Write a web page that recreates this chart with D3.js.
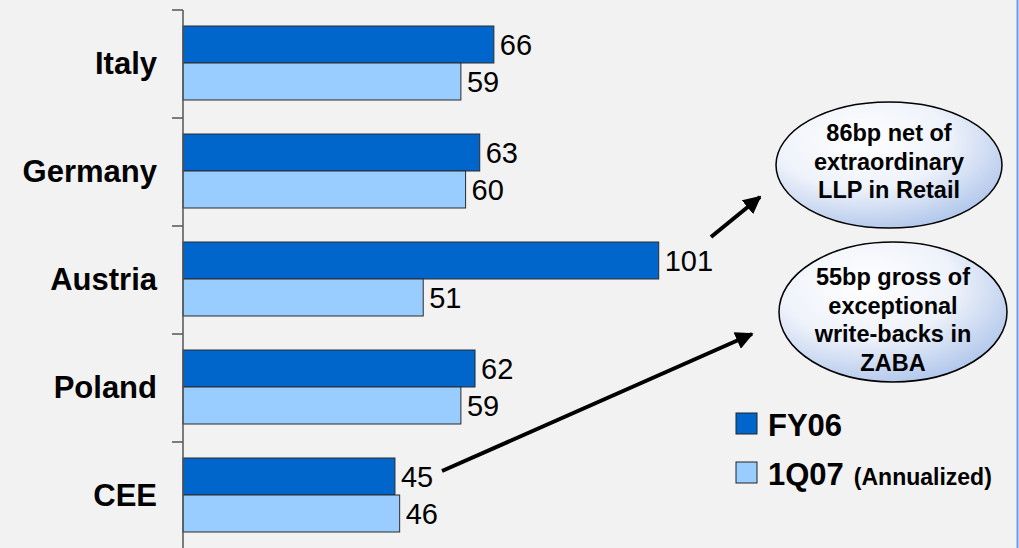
<!DOCTYPE html>
<html>
<head>
<meta charset="utf-8">
<script src="https://cdn.jsdelivr.net/npm/d3@7"></script>
<style>
  html, body { margin: 0; padding: 0; background: #F2F2F2; }
  svg { display: block; font-family: Arial, "Liberation Sans", Helvetica, sans-serif; }
</style>
</head>
<body>
<svg id="chart" width="1019" height="548"></svg>
<script>
// Loan loss provisions (bp) by region
const categories = ["Italy", "Germany", "Austria", "Poland", "CEE"];
const seriesNames = ["FY06", "1Q07"];
const fy06 = [66, 63, 101, 62, 45];
const q107 = [59, 60, 51, 59, 46];
const seriesColors = ["#0066CC", "#99CCFF"];
const legendNotes = ["", "(Annualized)"];
const noteUpper = ["86bp net of", "extraordinary", "LLP in Retail"];
const noteLower = ["55bp gross of", "exceptional", "write-backs in", "ZABA"];

const svg = d3.select("#chart");
const W = 1019, H = 548;

svg.append("rect").attr("width", W).attr("height", H).attr("fill", "#F2F2F2");
// thin frame line on the right edge
svg.append("line").attr("x1", W - 1.5).attr("x2", W - 1.5).attr("y1", 0).attr("y2", H)
  .attr("stroke", "#6F9BEA").attr("stroke-width", 2);

const x = d3.scaleLinear().domain([0, 100]).range([183, 654]);
const y = d3.scaleBand().domain(categories).range([10, 550]).padding(0);
const ySub = d3.scaleBand().domain(seriesNames).range([16, 90]).padding(0);

const rows = categories.map((c, i) => ({ cat: c, vals: [fy06[i], q107[i]] }));

// bars and value labels
const g = svg.append("g");
rows.forEach(r => {
  r.vals.forEach((v, j) => {
    const s = seriesNames[j];
    const top = y(r.cat) + ySub(s);
    g.append("rect")
      .attr("x", x(0))
      .attr("y", top)
      .attr("width", x(v) - x(0))
      .attr("height", ySub.bandwidth())
      .attr("fill", seriesColors[j])
      .attr("stroke", "#2B2B2B")
      .attr("stroke-width", 1);
    g.append("text")
      .attr("x", x(v) + 6)
      .attr("y", top + ySub.bandwidth() / 2)
      .attr("dy", "0.36em")
      .attr("font-size", 29)
      .attr("fill", "#000")
      .text(v);
  });
});

// category axis with ticks at band boundaries
const axG = svg.append("g").attr("transform", `translate(${x(0)},0)`);
axG.append("line").attr("x1", 0).attr("x2", 0).attr("y1", 10).attr("y2", H)
  .attr("stroke", "#555").attr("stroke-width", 1.5);
categories.forEach(c => {
  axG.append("line").attr("x1", -11).attr("x2", 0)
    .attr("y1", y(c)).attr("y2", y(c))
    .attr("stroke", "#555").attr("stroke-width", 1.5);
});
categories.forEach(c => {
  svg.append("text")
    .attr("x", 157)
    .attr("y", y(c) + y.bandwidth() / 2 - 1)
    .attr("dy", "0.36em")
    .attr("text-anchor", "end")
    .attr("font-size", 31)
    .attr("font-weight", "bold")
    .text(c);
});

// callout fill
const defs = svg.append("defs");
const grad = defs.append("radialGradient").attr("id", "noteFill")
  .attr("cx", "0.38").attr("cy", "0.3").attr("r", "0.78");
grad.append("stop").attr("offset", "0%").attr("stop-color", "#FFFFFF");
grad.append("stop").attr("offset", "50%").attr("stop-color", "#EEF2FA");
grad.append("stop").attr("offset", "100%").attr("stop-color", "#A9C1E9");

defs.append("marker").attr("id", "head")
  .attr("viewBox", "0 0 10 10").attr("refX", 9).attr("refY", 5)
  .attr("markerWidth", 4.5).attr("markerHeight", 4.5)
  .attr("markerUnits", "strokeWidth").attr("orient", "auto")
  .append("path").attr("d", "M0,0 L10,5 L0,10 Z").attr("fill", "#000");

function note(cx, cy, rx, ry, lines, firstBase) {
  svg.append("ellipse").attr("cx", cx).attr("cy", cy).attr("rx", rx).attr("ry", ry)
    .attr("fill", "url(#noteFill)").attr("stroke", "#000").attr("stroke-width", 1.5);
  lines.forEach((t, i) => {
    svg.append("text").attr("x", cx).attr("y", firstBase + i * 28.5)
      .attr("text-anchor", "middle").attr("font-size", 23.5).attr("font-weight", "bold")
      .text(t);
  });
}
note(889, 165, 113, 63, noteUpper, 141);
note(893, 312, 114, 70, noteLower, 285);

// arrows
function arrow(x1, y1, x2, y2) {
  svg.append("line").attr("x1", x1).attr("y1", y1).attr("x2", x2).attr("y2", y2)
    .attr("stroke", "#000").attr("stroke-width", 4).attr("marker-end", "url(#head)");
}
arrow(711, 237, 760, 197);
arrow(442, 471, 752, 334);

// legend
seriesNames.forEach((s, i) => {
  const ly = 413 + i * 49;
  svg.append("rect").attr("x", 736).attr("y", ly).attr("width", 21).attr("height", 21)
    .attr("fill", seriesColors[i]).attr("stroke", "#222").attr("stroke-width", 1);
  const t = svg.append("text").attr("x", 768).attr("y", ly + 23)
    .attr("font-weight", "bold").attr("font-size", 31);
  t.append("tspan").text(s);
  if (legendNotes[i]) {
    t.append("tspan").attr("font-size", 23).attr("dx", 10).text(legendNotes[i]);
  }
});
</script>
</body>
</html>
